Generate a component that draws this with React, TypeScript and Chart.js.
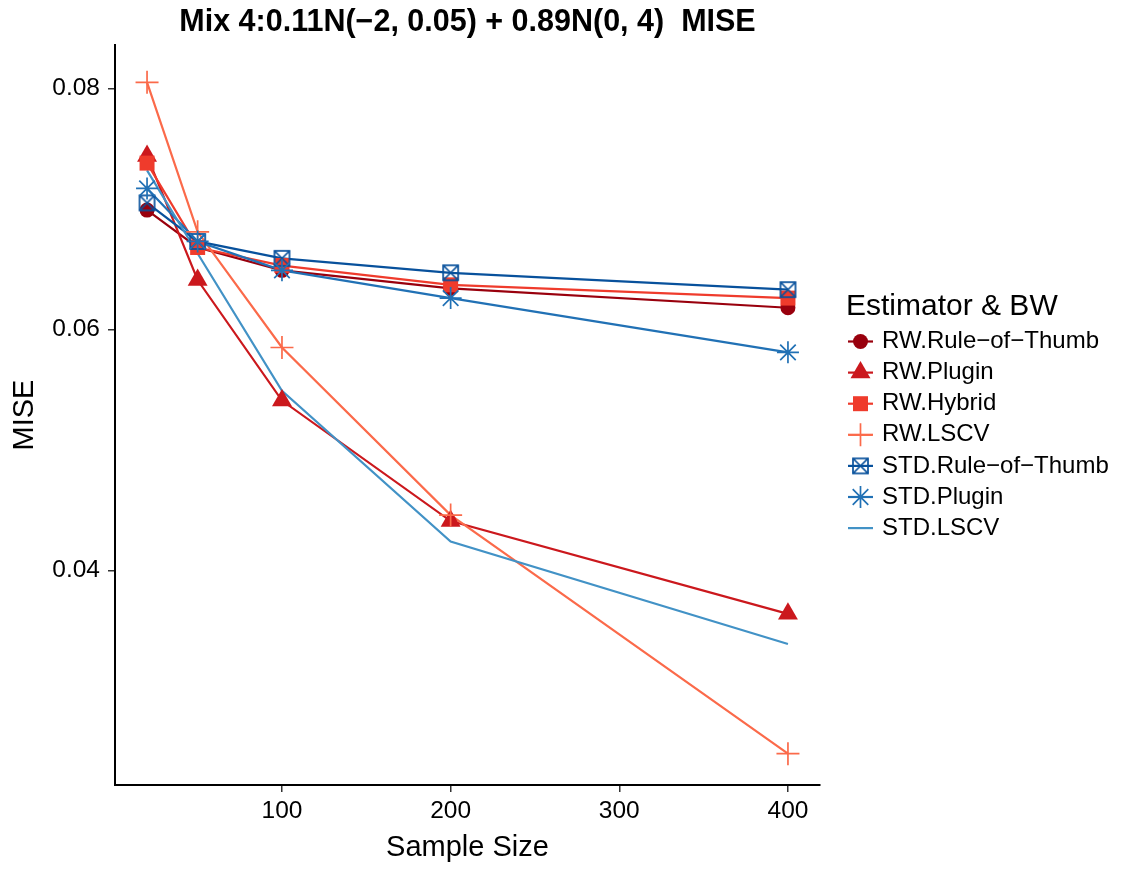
import React, { useEffect, useRef } from 'react';
import { Chart, registerables } from 'chart.js';
import { drawPoint } from 'chart.js/helpers';

Chart.register(...registerables);

// ---- data ----
const sampleSizes = [20, 50, 100, 200, 400];
const seriesNames = [
  'RW.Rule\u2212of\u2212Thumb',
  'RW.Plugin',
  'RW.Hybrid',
  'RW.LSCV',
  'STD.Rule\u2212of\u2212Thumb',
  'STD.Plugin',
  'STD.LSCV',
];
const rwRuleOfThumb = [0.0699, 0.0668, 0.0649, 0.0634, 0.0618];
const rwPlugin = [0.0744, 0.0641, 0.0541, 0.0441, 0.0364];
const rwHybrid = [0.0738, 0.0668, 0.0653, 0.0637, 0.0626];
const rwLSCV = [0.0805, 0.0681, 0.0585, 0.0446, 0.0248];
const stdRuleOfThumb = [0.0705, 0.0673, 0.0659, 0.0647, 0.0633];
const stdPlugin = [0.0717, 0.0673, 0.0649, 0.0626, 0.0581];
const stdLSCV = [0.0732, 0.0663, 0.0549, 0.0424, 0.0339];
const seriesValues = [rwRuleOfThumb, rwPlugin, rwHybrid, rwLSCV, stdRuleOfThumb, stdPlugin, stdLSCV];
const xTickValues = [100, 200, 300, 400];
const yTickValues = [0.04, 0.06, 0.08];
const chartTitle = 'Mix 4:0.11N(\u22122, 0.05) + 0.89N(0, 4)  MISE';
const legendTitle = 'Estimator & BW';
const xTitle = 'Sample Size';
const yTitle = 'MISE';

// ---- styles ----
const colors = ['#99000D', '#CB181D', '#EF3B2C', '#FB6A4A', '#08519C', '#2171B5', '#4292C6'];
const FONT = '"Liberation Sans", Arial, Helvetica, sans-serif';

function boxedX(color: string): HTMLCanvasElement {
  const s = 19;
  const c = document.createElement('canvas');
  c.width = s;
  c.height = s;
  const g = c.getContext('2d')!;
  g.strokeStyle = color;
  g.lineWidth = 1.7;
  const a = 2, b = s - 2;
  g.strokeRect(a, a, b - a, b - a);
  g.beginPath();
  g.moveTo(a, a);
  g.lineTo(b, b);
  g.moveTo(b, a);
  g.lineTo(a, b);
  g.stroke();
  return c;
}

type Mark = { pointStyle: any; radius: number; borderWidth: number; filled: boolean } | null;

function makeMarks(): Mark[] {
  return [
    { pointStyle: 'circle', radius: 7.5, borderWidth: 0, filled: true },
    { pointStyle: 'triangle', radius: 11.5, borderWidth: 0, filled: true },
    { pointStyle: 'rect', radius: 10.6, borderWidth: 0, filled: true },
    { pointStyle: 'cross', radius: 11.5, borderWidth: 1.7, filled: false },
    { pointStyle: boxedX(colors[4]), radius: 9, borderWidth: 0, filled: false },
    { pointStyle: 'star', radius: 11, borderWidth: 1.7, filled: false },
    null,
  ];
}

export default function App() {
  const ref = useRef<HTMLCanvasElement | null>(null);

  useEffect(() => {
    if (!ref.current) return;
    const marks = makeMarks();

    const lineSets = seriesValues.map((vals, i) => ({
      label: seriesNames[i],
      data: vals.map((v, j) => ({ x: sampleSizes[j], y: v })),
      borderColor: colors[i],
      backgroundColor: colors[i],
      borderWidth: 2.2,
      pointRadius: 0,
      pointHoverRadius: 0,
      tension: 0,
      fill: false,
      order: 40 - i,
    }));
    const pointSets: any[] = [];
    seriesValues.forEach((vals, i) => {
      const m = marks[i];
      if (!m) return;
      pointSets.push({
        label: seriesNames[i] + ' pts',
        data: vals.map((v, j) => ({ x: sampleSizes[j], y: v })),
        showLine: false,
        borderColor: colors[i],
        backgroundColor: m.filled ? colors[i] : 'rgba(0,0,0,0)',
        pointStyle: m.pointStyle,
        pointRadius: m.radius,
        pointHoverRadius: m.radius,
        pointBorderWidth: m.borderWidth,
        pointBorderColor: colors[i],
        pointBackgroundColor: m.filled ? colors[i] : 'rgba(0,0,0,0)',
        order: 20 - i,
      });
    });

    const legendPlugin = {
      id: 'ggLegend',
      afterDraw(chart: any) {
        const ctx: CanvasRenderingContext2D = chart.ctx;
        ctx.save();
        ctx.fillStyle = '#000';
        ctx.font = `30px ${FONT}`;
        ctx.textAlign = 'left';
        ctx.textBaseline = 'alphabetic';
        ctx.fillText(legendTitle, 846, 315);
        seriesNames.forEach((name, i) => {
          const y = 341.5 + i * 31.1;
          ctx.strokeStyle = colors[i];
          ctx.lineWidth = 2.2;
          ctx.beginPath();
          ctx.moveTo(848, y);
          ctx.lineTo(873, y);
          ctx.stroke();
          const m = marks[i];
          if (m) {
            ctx.fillStyle = m.filled ? colors[i] : 'rgba(0,0,0,0)';
            ctx.strokeStyle = colors[i];
            ctx.lineWidth = m.borderWidth;
            drawPoint(ctx, { pointStyle: m.pointStyle, radius: m.radius, rotation: 0, borderWidth: m.borderWidth }, 860.5, y);
          }
          ctx.fillStyle = '#000';
          ctx.font = `24px ${FONT}`;
          ctx.textBaseline = 'middle';
          ctx.fillText(name, 882, y);
        });
        ctx.restore();
      },
    };

    const chart = new Chart(ref.current, {
      type: 'line',
      data: { datasets: [...lineSets, ...pointSets] as any },
      plugins: [legendPlugin],
      options: {
        animation: false,
        responsive: false,
        devicePixelRatio: 1,
        layout: { padding: { left: 0, right: 322, top: 0, bottom: 0 } },
        plugins: {
          legend: { display: false },
          tooltip: { enabled: false },
          title: {
            display: true,
            text: chartTitle,
            fullSize: false,
            color: '#000',
            font: { family: FONT, size: 30.5, weight: 'bold', lineHeight: 1.2 },
            padding: { top: 4, bottom: 4.4 },
          },
        },
        scales: {
          x: {
            type: 'linear',
            min: 1,
            max: 419,
            afterFit: (s: any) => { s.height = 84; },
            afterBuildTicks: (s: any) => { s.ticks = xTickValues.map((v) => ({ value: v })); },
            border: { display: true, color: '#000', width: 2 },
            grid: { display: true, drawOnChartArea: false, drawTicks: true, tickLength: 7, color: '#333', lineWidth: 1.5 },
            ticks: { color: '#000', font: { family: FONT, size: 24.5 }, padding: 5, maxRotation: 0, autoSkip: false },
            title: { display: true, text: xTitle, color: '#000', font: { family: FONT, size: 29, lineHeight: 1.2 }, padding: { top: 0, bottom: 4 } },
          },
          y: {
            type: 'linear',
            min: 0.0222,
            max: 0.0836,
            afterFit: (s: any) => { s.width = 115; },
            afterBuildTicks: (s: any) => { s.ticks = yTickValues.map((v) => ({ value: v })); },
            border: { display: true, color: '#000', width: 2 },
            grid: { display: true, drawOnChartArea: false, drawTicks: true, tickLength: 7, color: '#333', lineWidth: 1.5 },
            ticks: { color: '#000', font: { family: FONT, size: 24.5 }, padding: 8, callback: (v: any) => Number(v).toFixed(2) },
            title: { display: true, text: yTitle, color: '#000', font: { family: FONT, size: 29, lineHeight: 1.2 }, padding: { top: 8, bottom: 0 } },
          },
        },
      },
    });
    return () => chart.destroy();
  }, []);

  return (
    <div style={{ position: 'absolute', left: 0, top: 0, width: 1142, height: 869, background: '#fff' }}>
      <canvas ref={ref} width={1142} height={869} style={{ display: 'block', width: 1142, height: 869 }} />
    </div>
  );
}
